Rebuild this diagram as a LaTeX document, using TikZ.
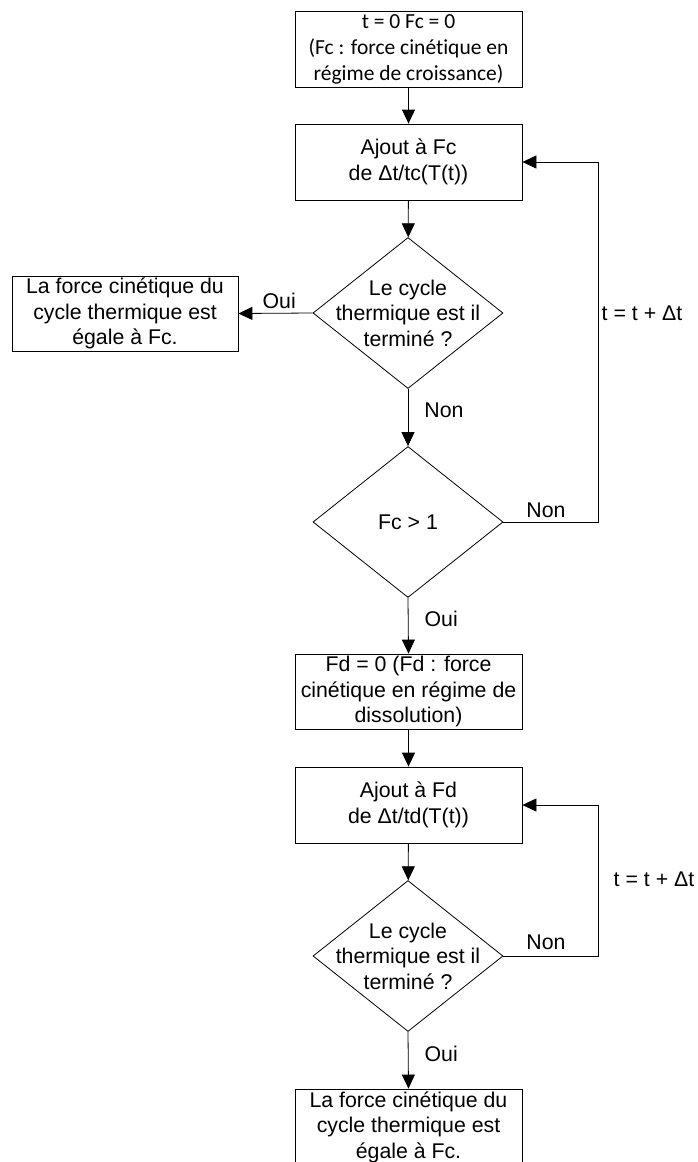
\documentclass[tikz,border=0pt]{standalone}
\usepackage{fontspec}
\setmainfont{Liberation Sans}
\newfontfamily\calibri[Ligatures=NoCommon]{Carlito}
\usetikzlibrary{shapes.geometric,arrows.meta}

\tikzset{
    box/.style={draw, line width=0.8pt, minimum width=227pt, minimum height=76pt, align=center, inner sep=0pt},
    dec/.style={draw, diamond, line width=0.8pt, minimum width=190pt, minimum height=151pt, inner sep=0pt},
    txt/.style={align=center, inner sep=0pt},
    lbl/.style={inner sep=2pt},
    arr/.style={-{Triangle[length=14pt,width=13pt]}, line width=0.8pt}
}

\begin{document}
\begin{tikzpicture}[x=1pt, y=-1pt, font=\fontsize{21.3}{25.5}\selectfont]
    % Fix the page size
    \useasboundingbox (0,0) rectangle (697,1162);

    % First loop: growth regime
    \node[box, font=\calibri\fontsize{21.5}{26}\selectfont] (start) at (408.5,49) {t = 0 Fc = 0\\(Fc : force cinétique en\\régime de croissance)};
    \node[box] (addc) at (408.5,162) {Ajout à Fc\\de Δt/tc(T(t))};
    \node[dec, label={[txt]center:{Le cycle\\thermique est il\\terminé ?}}] (endc) at (408,313) {};
    \node[box, minimum width=226pt, minimum height=75pt] (resc) at (125,313.5) {La force cinétique du\\cycle thermique est\\égale à Fc.};
    \node[dec, label={[txt]center:{Fc > 1}}] (test) at (408,522) {};
    \coordinate (backc) at (598,162);

    % Second loop: dissolution regime
    \node[box, minimum height=75pt] (initd) at (408.5,691.5) {Fd = 0 (Fd : force\\cinétique en régime de\\dissolution)};
    \node[box] (addd) at (408.5,805) {Ajout à Fd\\de Δt/td(T(t))};
    \node[dec, label={[txt]center:{Le cycle\\thermique est il\\terminé ?}}] (endd) at (408,956) {};
    \node[box] (resd) at (408.5,1127) {La force cinétique du\\cycle thermique est\\égale à Fc.};
    \coordinate (backd) at (598,805);

    % Connectors
    \draw[arr] (start) -- (addc);
    \draw[arr] (addc) -- (endc);
    \draw[arr] (endc.west) -- (resc.east) node[lbl, pos=0.45, above=2pt] {Oui};
    \draw[arr] (endc.south) -- (test.north) node[lbl, pos=0.38, right=14pt] {Non};
    \draw[arr] (test.east) -| (backc) -- (addc.east);
    \node[lbl] (nonc) at (546,510) {Non};
    \node[lbl] (stepc) at (642,313) {t = t + Δt};
    \draw[arr] (test.south) -- (initd.north) node[lbl, pos=0.38, right=14pt] {Oui};

    \draw[arr] (initd) -- (addd);
    \draw[arr] (addd) -- (endd);
    \draw[arr] (endd.east) -| (backd) -- (addd.east);
    \node[lbl] (nond) at (546,942) {Non};
    \node[lbl] (stepd) at (654,879) {t = t + Δt};
    \draw[arr] (endd.south) -- (resd.north) node[lbl, pos=0.38, right=14pt] {Oui};
\end{tikzpicture}
\end{document}
